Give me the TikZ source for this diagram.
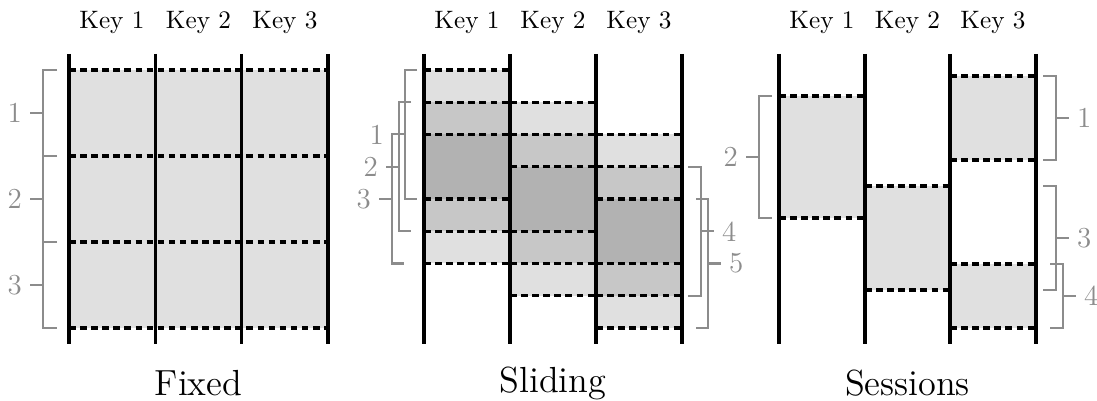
\documentclass[tikz,border=0pt]{standalone}
\usetikzlibrary{calc}
\definecolor{lg}{gray}{0.88}
\definecolor{mg}{gray}{0.78}
\definecolor{dg}{gray}{0.70}
\definecolor{brkc}{gray}{0.55}
\tikzset{
  sep/.style={line width=1.2pt, black},
  dsh/.style={line width=1.2pt, black, dash pattern=on 2.6pt off 1.8pt},
  brk/.style={line width=0.8pt, brkc},
  brklab/.style={text=brkc, inner sep=0pt, font=\fontsize{11.5}{13}\selectfont},
  keylab/.style={inner sep=0pt},
  title/.style={font=\Large, inner sep=0pt},
}
\newcommand\lbrk[6]{% name, vertical x, tick end x, top y, bottom y, label
  \draw[brk] (#3,#4) -| (#2,#5) -- (#3,#5);
  \draw[brk] (#2,{(#4+#5)/2}) -- ++(-13,0) coordinate (#1t);
  \node[brklab, anchor=east] (#1) at ([xshift=-3pt]#1t) {#6};
}
\newcommand\rbrk[6]{%
  \draw[brk] (#3,#4) -| (#2,#5) -- (#3,#5);
  \draw[brk] (#2,{(#4+#5)/2}) -- ++(13,0) coordinate (#1t);
  \node[brklab, anchor=west] (#1) at ([xshift=3pt]#1t) {#6};
}
\begin{document}
\begin{tikzpicture}[x=0.3968pt, y=-0.3968pt]
\useasboundingbox (0,0) rectangle (1097,401);
% ---------- Fixed ----------
\fill[lg] (69,70) rectangle (328,328);
\foreach \y in {70,156,242,328} \draw[dsh] (69,\y) -- (328,\y);
\foreach \x [count=\i] in {69,155.3,241.6,328} {
  \draw[sep] (\x,54) -- (\x,344);
}
\foreach \x [count=\i] in {112,198.5,285} \node[keylab] (fk\i) at (\x,22) {Key \i};
\lbrk{fb1}{43}{57}{70}{156}{1}
\lbrk{fb2}{43}{57}{156}{242}{2}
\lbrk{fb3}{43}{57}{242}{328}{3}
\node[title] (ftitle) at (198.5,383) {Fixed};
% ---------- Sliding ----------
\foreach \c in {0,1,2} {
  \pgfmathsetmacro\xa{424+86*\c}
  \pgfmathsetmacro\xb{424+86*(\c+1)}
  \fill[lg] (\xa,{70+32.25*\c}) rectangle (\xb,{70+32.25*(\c+6)});
  \fill[mg] (\xa,{70+32.25*(\c+1)}) rectangle (\xb,{70+32.25*(\c+5)});
  \fill[dg] (\xa,{70+32.25*(\c+2)}) rectangle (\xb,{70+32.25*(\c+4)});
  \foreach \u in {0,1,2,4,5,6} \draw[dsh] (\xa,{70+32.25*(\c+\u)}) -- (\xb,{70+32.25*(\c+\u)});
}
\foreach \x in {424,510,596,682} \draw[sep] (\x,54) -- (\x,344);
\foreach \x [count=\i] in {467,553,639} \node[keylab] (sk\i) at (\x,22) {Key \i};
\lbrk{sb1}{405}{417}{70}{199}{1}
\lbrk{sb2}{399}{411}{102.25}{231.25}{2}
\lbrk{sb3}{392}{404}{134.5}{263.5}{3}
\rbrk{sb4}{701}{688}{166.75}{295.75}{4}
\rbrk{sb5}{708}{696}{199}{328}{5}
\node[title] (stitle) at (553,383) {Sliding};
% ---------- Sessions ----------
\fill[lg] (779,96) rectangle (865,218);
\fill[lg] (865,186) rectangle (950,290);
\fill[lg] (950,76) rectangle (1036,160);
\fill[lg] (950,264) rectangle (1036,328);
\foreach \xa/\xb/\y in {779/865/96,779/865/218,865/950/186,865/950/290,950/1036/76,950/1036/160,950/1036/264,950/1036/328}
  \draw[dsh] (\xa,\y) -- (\xb,\y);
\foreach \x in {779,865,950,1036} \draw[sep] (\x,54) -- (\x,344);
\foreach \x [count=\i] in {822,907.5,993} \node[keylab] (ek\i) at (\x,22) {Key \i};
\lbrk{eb2}{759}{772}{96}{218}{2}
\rbrk{eb1}{1056}{1043}{76}{160}{1}
\rbrk{eb3}{1056}{1043}{186}{290}{3}
\rbrk{eb4}{1063}{1050}{264}{328}{4}
\node[title] (etitle) at (907.5,383) {Sessions};
\end{tikzpicture}
\end{document}
